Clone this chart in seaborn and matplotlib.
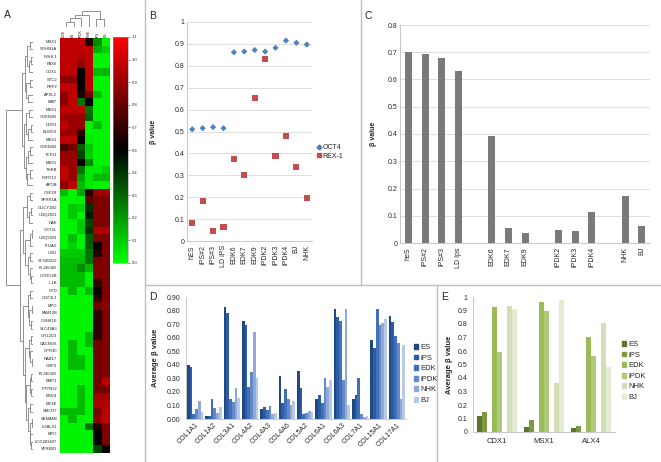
import numpy as np
import pandas as pd
import matplotlib
matplotlib.use('Agg')
import matplotlib.pyplot as plt
import seaborn as sns
from matplotlib.colors import LinearSegmentedColormap
from matplotlib.lines import Line2D
from matplotlib.patches import Patch

# ---------------- data ----------------
# A: heatmap of beta values
heat_cols = ['EDK', 'BJ', 'iPDK', 'NHK', 'iPS', 'ES']
heat_rows = ['MSX1', 'SOHN1A', 'RGHL1', 'PAX6', 'CDX1', 'STC2', 'PRP2', 'APXL2', 'MBP',
             'MSX1', 'CDKN2B', 'DDR1', 'ELMO3', 'MSX1', 'CDKN2B', 'TCF21', 'MSX1', 'THRB',
             'P2RY12', 'APOB', 'CSF1R', 'SPRR1A', 'GUCY1B2', 'UNQ2021', 'HAK', 'CST3L',
             'UNQ5091', 'ITGAX', 'UBD', 'SCGB1D2', 'FLJ46365', 'CORO2B', 'IL1B', 'HPD',
             'GDF3L1', 'MPO', 'FAM12B', 'CSNK1E', 'SLC43A3', 'OR12D3', 'CACNG6', 'GPR30',
             'RAB17', 'GBP3', 'FLJ46365', 'EMP1', 'PTPN22', 'BRD4', 'EIF4E', 'SMCR7',
             'SEMA6B', 'LGALS1', 'MPO', 'LOC283487', 'VPREB1']
heat_vals = [
    [.96, .96, .96, .62, .25, .03], [.96, .96, .96, .96, .18, .10],
    [.96, .96, .92, .96, .03, .03], [.96, .96, .85, .96, .03, .03],
    [.96, .96, .55, .96, .15, .15], [.85, .85, .55, .96, .03, .03],
    [.96, .96, .55, .96, .03, .03], [.85, .96, .62, .80, .15, .03],
    [.85, .96, .30, .55, .03, .03], [.96, .96, .96, .30, .03, .03],
    [.88, .88, .88, .33, .03, .03], [.96, .88, .88, .03, .15, .03],
    [.88, .88, .65, .03, .03, .03], [.96, .96, .55, .05, .03, .03],
    [.72, .80, .35, .12, .03, .03], [.88, .88, .40, .10, .03, .03],
    [.88, .88, .55, .25, .03, .03], [.96, .88, .30, .05, .05, .10],
    [.96, .88, .20, .05, .15, .15], [.85, .96, .15, .05, .03, .03],
    [.15, .03, .20, .62, .88, .90], [.03, .03, .03, .75, .82, .82],
    [.03, .12, .10, .45, .82, .82], [.03, .12, .03, .50, .82, .82],
    [.03, .03, .12, .40, .82, .82], [.03, .03, .12, .45, .92, .92],
    [.03, .15, .03, .35, .82, .82], [.03, .10, .03, .35, .55, .82],
    [.12, .12, .12, .30, .62, .82], [.15, .15, .15, .30, .82, .82],
    [.15, .15, .25, .15, .82, .82], [.15, .15, .15, .03, .82, .82],
    [.15, .15, .15, .03, .65, .82], [.03, .15, .03, .15, .55, .82],
    [.03, .03, .03, .03, .65, .82], [.03, .03, .03, .03, .80, .85],
    [.03, .03, .03, .03, .65, .82], [.03, .03, .03, .03, .65, .82],
    [.03, .03, .03, .03, .65, .82], [.03, .03, .03, .15, .65, .82],
    [.03, .15, .03, .15, .80, .82], [.03, .15, .03, .03, .80, .82],
    [.03, .15, .15, .03, .80, .82], [.03, .15, .15, .03, .80, .82],
    [.03, .03, .03, .03, .80, .82], [.03, .03, .03, .03, .80, .95],
    [.03, .03, .15, .03, .80, .80], [.03, .03, .15, .03, .90, .90],
    [.03, .03, .15, .03, .92, .92], [.15, .15, .15, .03, .80, .95],
    [.03, .15, .03, .03, .85, .95], [.03, .03, .03, .30, .62, .82],
    [.03, .03, .03, .03, .55, .82], [.03, .03, .03, .03, .55, .82],
    [.03, .03, .03, .03, .40, .55],
]
cbar_labels = ['0.0', '0.1', '0.2', '0.3', '0.4', '0.6', '0.7', '0.8', '0.9', '1.0', '1.1']

# dendrograms as (height, left, right); ints are leaf indices
row_tree = (1.0,
            (0.39,
             (0.30, (0.22, (0.10, 0, 1), (0.15, (0.08, 2, 3), 4)),
                    (0.25, (0.12, 5, 6), (0.18, 7, 8))),
             (0.33, (0.24, (0.14, 9, 10), (0.18, (0.09, 11, 12), 13)),
                    (0.27, (0.20, (0.11, 14, 15), 16), (0.22, (0.10, 17, 18), 19)))),
            (0.46,
             (0.35, (0.22, (0.10, 20, 21), (0.14, (0.07, 22, 23), 24)),
                    (0.28, (0.12, (0.05, 25, 26), 27),
                           (0.19, (0.10, 28, 29), (0.12, 30, (0.06, 31, 32))))),
             (0.38, (0.20, (0.10, 33, 34), (0.14, (0.05, 35, 36), (0.08, 37, 38))),
                    (0.30, (0.15, (0.08, 39, 40), (0.10, 41, (0.05, 42, 43))),
                           (0.25, (0.12, (0.06, 44, 45), (0.08, 46, 47)),
                                  (0.18, (0.10, 48, 49),
                                         (0.12, (0.05, 50, 51), (0.10, 52, (0.06, 53, 54)))))))))
col_tree = (1.0, (0.75, (0.55, (0.35, 0, 1), 2), 3), (0.5, 4, 5))

# B: OCT4 / REX-1 promoter methylation
b_samples = ['hES', 'iPS#2', 'iPS#3', 'LD iPS', 'EDK6', 'EDK7', 'EDK9',
             'iPDK2', 'iPDK3', 'iPDK4', 'BJ', 'NHK']
b_oct4 = [0.51, 0.515, 0.52, 0.515, 0.862, 0.865, 0.872, 0.865, 0.882, 0.915, 0.905, 0.897]
b_rex1 = [0.082, 0.184, 0.044, 0.064, 0.376, 0.300, 0.654, 0.830, 0.388, 0.479, 0.339, 0.196]

# C: single gene beta values (blank slots separate groups)
c_order = ['heS', 'iPS#2', 'iPS#3', 'LD Ips', ' ', 'EDK6', 'EDK7', 'EDK9', '  ',
           'iPDK2', 'iPDK3', 'iPDK4', '   ', 'NHK', 'BJ']
c_samples = ['heS', 'iPS#2', 'iPS#3', 'LD Ips', 'EDK6', 'EDK7', 'EDK9',
             'iPDK2', 'iPDK3', 'iPDK4', 'NHK', 'BJ']
c_values = [0.700, 0.692, 0.680, 0.632, 0.392, 0.055, 0.035, 0.048, 0.044, 0.115, 0.173, 0.063]

# D: collagen genes
d_genes = ['COL1A1', 'COL1A2', 'COL3A1', 'COL4A2', 'COL4A3', 'COL4A6',
           'COL5A2', 'COL6A1', 'COL6A3', 'COL7A1', 'COL15A1', 'COL17A1']
cell_types = ['ES', 'iPS', 'EDK', 'iPDK', 'NHK', 'BJ']
d_es = [0.40, 0.02, 0.825, 0.725, 0.075, 0.315, 0.355, 0.15, 0.815, 0.145, 0.585, 0.76]
d_ips = [0.385, 0.02, 0.785, 0.69, 0.085, 0.115, 0.23, 0.18, 0.755, 0.18, 0.525, 0.715]
d_edk = [0.04, 0.145, 0.145, 0.235, 0.07, 0.22, 0.04, 0.12, 0.72, 0.30, 0.815, 0.61]
d_ipdk = [0.075, 0.08, 0.125, 0.345, 0.095, 0.15, 0.045, 0.305, 0.29, 0.035, 0.69, 0.56]
d_nhk = [0.13, 0.045, 0.23, 0.64, 0.04, 0.10, 0.06, 0.235, 0.81, 0.015, 0.705, 0.145]
d_bj = [0.05, 0.09, 0.155, 0.30, 0.045, 0.13, 0.05, 0.29, 0.10, 0.025, 0.74, 0.545]

# E: homeobox genes
e_genes = ['CDX1', 'MSX1', 'ALX4']
e_es = [0.12, 0.035, 0.03]
e_ips = [0.15, 0.09, 0.045]
e_edk = [0.925, 0.965, 0.705]
e_ipdk = [0.59, 0.895, 0.56]
e_nhk = [0.93, 0.365, 0.805]
e_bj = [0.914, 0.975, 0.485]

# ---------------- style ----------------
sns.set_style('white')
plt.rcParams['font.family'] = ['Liberation Sans', 'DejaVu Sans']
TXT = '#262626'
GRID = '#d9d9d9'
SEP = '#bfbfbf'

W, H = 661, 462
fig = plt.figure(figsize=(W / 100, H / 100), dpi=100)


def box(x0, y0, x1, y1):
    # pixel box (top-left origin) -> figure fraction rect
    return [x0 / W, 1 - y1 / H, (x1 - x0) / W, (y1 - y0) / H]


def draw_tree(ax, node, horizontal):
    if isinstance(node, int):
        return node + 0.5, 0.0
    h, a, b = node
    pa, ha = draw_tree(ax, a, horizontal)
    pb, hb = draw_tree(ax, b, horizontal)
    if horizontal:
        ax.plot([ha, h, h, hb], [pa, pa, pb, pb], color='#808080', lw=0.6)
    else:
        ax.plot([pa, pa, pb, pb], [ha, h, h, hb], color='#808080', lw=0.6)
    return (pa + pb) / 2, h


# ---------------- A ----------------
axH = fig.add_axes(box(60, 38, 110, 453))
axCb = fig.add_axes(box(113, 37, 128, 263))
cmap = LinearSegmentedColormap.from_list('gkr', ['#00ff00', '#000000', '#ff0000'])
heat_df = pd.DataFrame(heat_vals, index=heat_rows, columns=heat_cols)
sns.heatmap(heat_df, ax=axH, cmap=cmap, vmin=0, vmax=1.1, cbar_ax=axCb,
            xticklabels=True, yticklabels=True)
axH.xaxis.tick_top()
axH.tick_params(axis='y', labelsize=3, length=0, pad=2, labelcolor=TXT)
axH.tick_params(axis='x', labelsize=2.5, length=0, pad=1, labelrotation=90, labelcolor=TXT)
axH.set_xlabel('')
axH.set_ylabel('')
cb = axH.collections[0].colorbar
cb.set_ticks(np.linspace(0, 1.1, 11))
cb.set_ticklabels(cbar_labels)
cb.ax.tick_params(labelsize=3, length=1.5, width=0.4, pad=1, labelcolor=TXT)
cb.outline.set_linewidth(0.4)
cb.outline.set_edgecolor('#999999')

axDL = fig.add_axes(box(5, 38, 33, 453))
draw_tree(axDL, row_tree, True)
axDL.set_xlim(1.02, 0)
axDL.set_ylim(len(heat_rows), 0)
axDL.axis('off')

axDT = fig.add_axes(box(62, 11, 108, 27))
draw_tree(axDT, col_tree, False)
axDT.set_xlim(0, len(heat_cols))
axDT.set_ylim(0, 1.02)
axDT.axis('off')


def excel_axes(ax, grid):
    for s in ['top', 'right']:
        ax.spines[s].set_visible(False)
    for s in ['left', 'bottom']:
        ax.spines[s].set_color(SEP)
        ax.spines[s].set_linewidth(0.6)
    ax.tick_params(labelsize=5, labelcolor=TXT, length=0, pad=2)
    if grid:
        ax.yaxis.grid(True, color=GRID, lw=0.6)
        ax.set_axisbelow(True)


# ---------------- B ----------------
axB = fig.add_axes(box(187, 22, 312, 241))
b_df = pd.DataFrame({
    'sample': b_samples * 2,
    'beta': b_oct4 + b_rex1,
    'gene': ['OCT4'] * len(b_samples) + ['REX-1'] * len(b_samples),
})
b_pal = {'OCT4': '#4f81bd', 'REX-1': '#c0504d'}
sns.scatterplot(data=b_df, x='sample', y='beta', hue='gene', style='gene', size='gene',
                markers={'OCT4': 'D', 'REX-1': 's'}, sizes={'OCT4': 10, 'REX-1': 20},
                palette=b_pal, linewidth=0, legend=False, ax=axB)
excel_axes(axB, True)
axB.set_ylim(0, 1)
axB.set_yticks(np.arange(0, 1.01, 0.1))
axB.set_yticklabels(['0', '0.1', '0.2', '0.3', '0.4', '0.5', '0.6', '0.7', '0.8', '0.9', '1'])
axB.set_xlim(-0.5, len(b_samples) - 0.5)
axB.tick_params(axis='x', labelrotation=90, pad=3)
axB.set_xlabel('')
axB.set_ylabel('β value', fontsize=5, fontweight='bold', color=TXT)
axB.yaxis.set_label_coords(-0.24, 0.5)
b_handles = [Line2D([], [], marker='D', ls='', color=b_pal['OCT4'], markersize=2.5),
             Line2D([], [], marker='s', ls='', color=b_pal['REX-1'], markersize=3.2)]
fig.legend(b_handles, ['OCT4', 'REX-1'], loc='center left',
           bbox_to_anchor=(314 / W, 1 - 152 / H), frameon=False, fontsize=5,
           handlelength=0.5, handletextpad=0.2, labelspacing=0.25, borderpad=0,
           labelcolor=TXT)

# ---------------- C ----------------
axC = fig.add_axes(box(400, 25, 650, 243))
c_df = pd.DataFrame({'sample': c_samples, 'beta': c_values})
sns.barplot(data=c_df, x='sample', y='beta', order=c_order, color='#7a7a7a',
            saturation=1, width=0.42, linewidth=0, ax=axC)
excel_axes(axC, True)
axC.set_ylim(0, 0.8)
axC.set_yticks(np.arange(0, 0.81, 0.1))
axC.set_yticklabels(['0', '0.1', '0.2', '0.3', '0.4', '0.5', '0.6', '0.7', '0.8'])
axC.set_xticks(range(len(c_order)))
axC.set_xticklabels([s.strip() for s in c_order])
axC.tick_params(axis='x', labelrotation=90, pad=3)
axC.set_xlabel('')
axC.set_ylabel('β value', fontsize=5, fontweight='bold', color=TXT)
axC.yaxis.set_label_coords(-0.092, 0.5)

# ---------------- D ----------------
axD = fig.add_axes(box(186, 297, 406, 419))
d_df = pd.DataFrame({
    'gene': d_genes * 6,
    'cell': [c for c in cell_types for _ in d_genes],
    'beta': d_es + d_ips + d_edk + d_ipdk + d_nhk + d_bj,
})
d_pal = dict(zip(cell_types, ['#1f4886', '#2c5ca3', '#4270b8', '#6589c8', '#8faad8', '#b8cae6']))
sns.barplot(data=d_df, x='gene', y='beta', hue='cell', hue_order=cell_types,
            palette=d_pal, saturation=1, width=0.9, linewidth=0, legend=False, ax=axD)
excel_axes(axD, False)
axD.tick_params(axis='y', length=2, width=0.5, color=SEP)
axD.set_ylim(0, 0.9)
axD.set_yticks(np.arange(0, 0.91, 0.1))
axD.set_yticklabels(['0.00', '0.10', '0.20', '0.30', '0.40', '0.50',
                     '0.60', '0.70', '0.80', '0.90'])
axD.set_xlim(-0.5, len(d_genes) - 0.5)
plt.setp(axD.get_xticklabels(), rotation=45, ha='right', rotation_mode='anchor')
axD.set_xlabel('')
axD.set_ylabel('Average β value', fontsize=5.5, fontweight='bold', color=TXT)
axD.yaxis.set_label_coords(-0.123, 0.5)
fig.legend([Patch(color=d_pal[c]) for c in cell_types], cell_types, loc='center left',
           bbox_to_anchor=(410 / W, 1 - 374 / H), frameon=False, fontsize=5.5,
           handlelength=0.6, handleheight=0.6, handletextpad=0.3, labelspacing=0.45,
           borderpad=0, labelcolor=TXT)

# ---------------- E ----------------
axE = fig.add_axes(box(473, 297, 615, 432))
e_hue = ['ES', 'iPS', 'gap1', 'EDK', 'iPDK', 'gap2', 'NHK', 'BJ']
e_df = pd.DataFrame({
    'gene': e_genes * 6,
    'cell': [c for c in cell_types for _ in e_genes],
    'beta': e_es + e_ips + e_edk + e_ipdk + e_nhk + e_bj,
})
e_pal = dict(zip(cell_types, ['#5b7530', '#7b9a3e', '#9bbb59', '#aec978', '#d2dfb6', '#e3ebd2']))
e_pal.update({'gap1': 'white', 'gap2': 'white'})
sns.barplot(data=e_df, x='gene', y='beta', hue='cell', hue_order=e_hue,
            palette=e_pal, saturation=1, width=0.85, linewidth=0, legend=False, ax=axE)
excel_axes(axE, False)
axE.tick_params(axis='y', length=2, width=0.5, color=SEP)
axE.tick_params(axis='x', labelsize=5.5, pad=4)
axE.set_ylim(0, 1)
axE.set_yticks(np.arange(0, 1.01, 0.1))
axE.set_yticklabels(['0', '0.1', '0.2', '0.3', '0.4', '0.5', '0.6', '0.7', '0.8', '0.9', '1'])
axE.set_xlim(-0.5, len(e_genes) - 0.5)
axE.set_xlabel('')
axE.set_ylabel('Average β value', fontsize=5.5, fontweight='bold', color=TXT)
axE.yaxis.set_label_coords(-0.141, 0.5)
fig.legend([Patch(color=e_pal[c]) for c in cell_types], cell_types, loc='center left',
           bbox_to_anchor=(618 / W, 1 - 371 / H), frameon=False, fontsize=5.5,
           handlelength=0.6, handleheight=0.6, handletextpad=0.3, labelspacing=0.45,
           borderpad=0, labelcolor=TXT)

# ---------------- panel frame & letters ----------------
for (x0, y0, x1, y1) in [(145, 0, 145, 462), (145, 285, 661, 285),
                         (361, 0, 361, 285), (437, 285, 437, 462)]:
    fig.add_artist(Line2D([x0 / W, x1 / W], [1 - y0 / H, 1 - y1 / H], color=SEP, lw=1))
for letter, x, y in [('A', 4, 15), ('B', 149, 16), ('C', 365, 16), ('D', 149, 297), ('E', 441, 297)]:
    fig.text(x / W, 1 - y / H, letter, fontsize=7.5, ha='left', va='center', color=TXT)

fig.savefig('out.png', dpi=100)
